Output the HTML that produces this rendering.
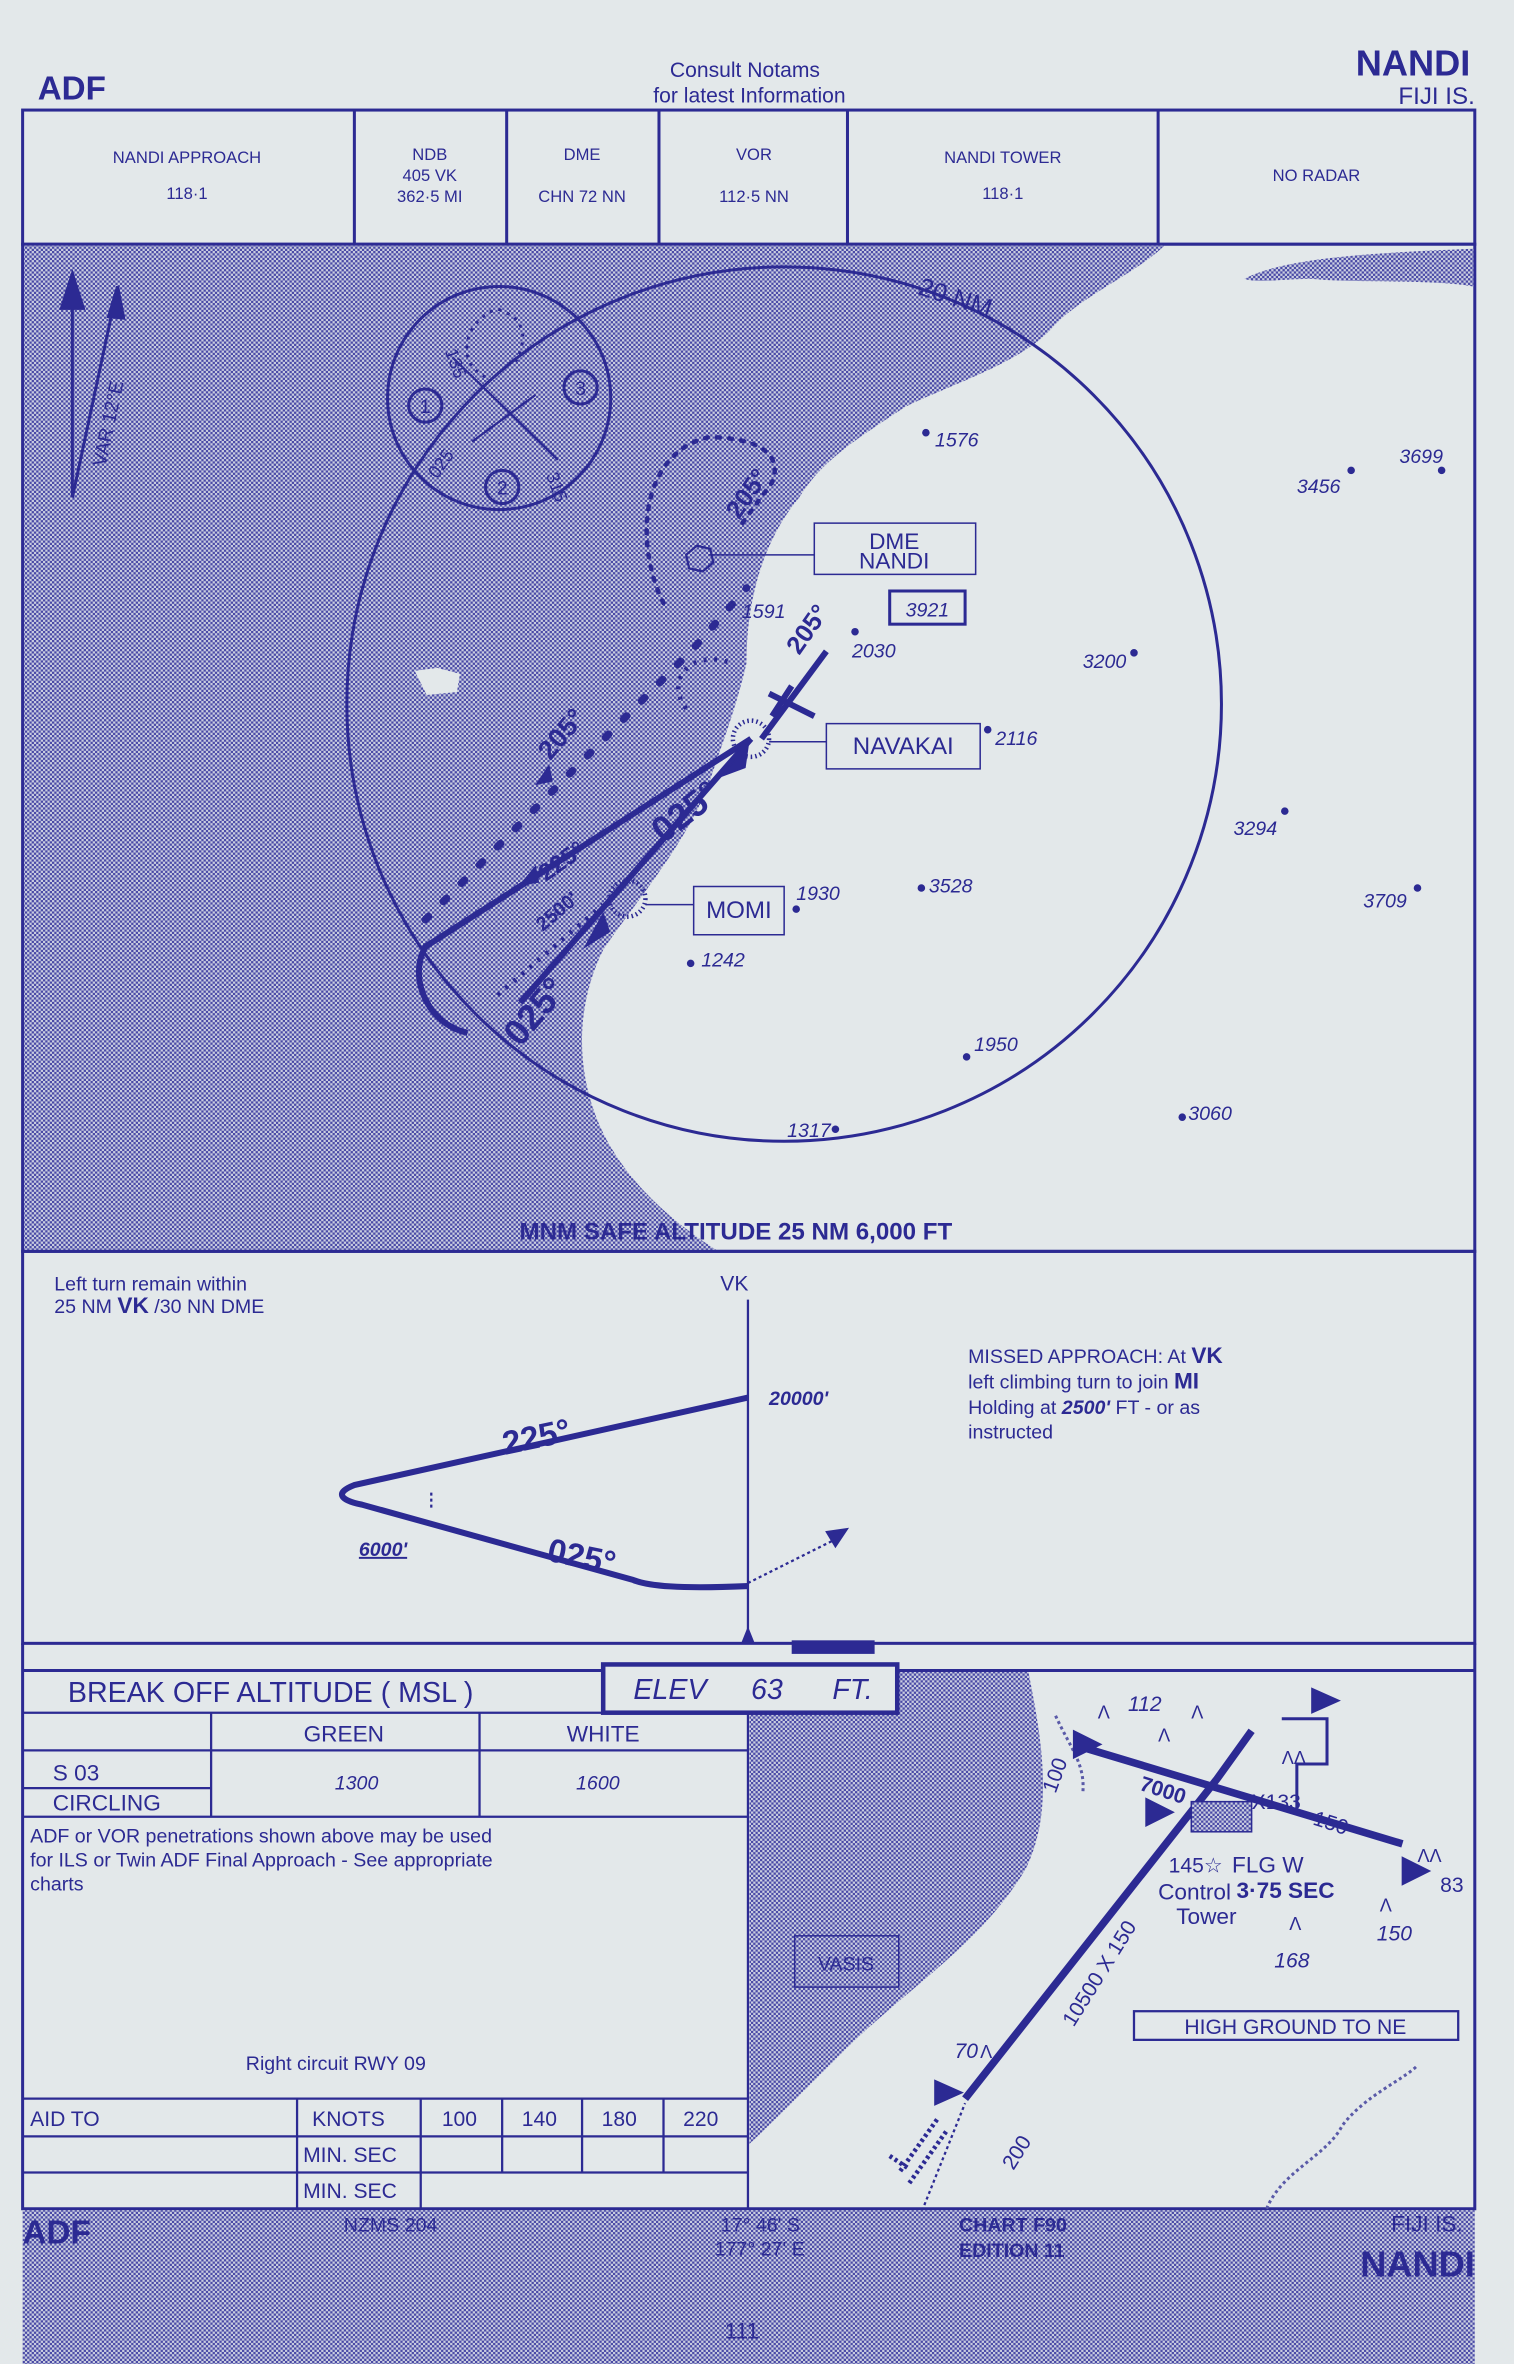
<!DOCTYPE html>
<html><head><meta charset="utf-8"><style>
html,body{margin:0;padding:0;background:#e3e8ea;}
svg{display:block;}
text{font-family:"Liberation Sans",sans-serif;fill:#2c2a93;}
</style></head><body>
<svg width="1514" height="2364" viewBox="0 0 1004 1568" preserveAspectRatio="none" xmlns="http://www.w3.org/2000/svg">
<defs>
<pattern id="h" width="3" height="3" patternUnits="userSpaceOnUse">
<rect width="3" height="3" fill="#c9cde0"/><rect width="1.5" height="1.5" fill="#4a4aa6"/><rect x="1.5" y="1.5" width="1.5" height="1.5" fill="#4a4aa6"/>
</pattern>
</defs>
<rect width="1004" height="1568" fill="#e3e8ea"/>
<g stroke="#2c2a93" fill="none">
<!-- header -->
<text x="25" y="66" font-size="22" font-weight="bold" stroke="none">ADF</text>
<text x="494" y="51" font-size="14" text-anchor="middle" stroke="none">Consult  Notams</text>
<text x="497" y="68" font-size="14" text-anchor="middle" stroke="none">for latest Information</text>
<text x="975" y="50" font-size="24" font-weight="bold" text-anchor="end" stroke="none">NANDI</text>
<text x="978" y="69" font-size="16" text-anchor="end" stroke="none">FIJI IS.</text>
<!-- freq box -->
<rect x="15" y="73" width="963" height="89" stroke-width="2"/>
<path d="M235 73V162M336 73V162M437 73V162M562 73V162M768 73V162" stroke-width="2"/>
<g font-size="11" stroke="none" text-anchor="middle">
<text x="124" y="108">NANDI APPROACH</text><text x="124" y="132">118·1</text>
<text x="285" y="106">NDB</text><text x="285" y="120">405    VK</text><text x="285" y="134">362·5   MI</text>
<text x="386" y="106">DME</text><text x="386" y="134">CHN   72   NN</text>
<text x="500" y="106">VOR</text><text x="500" y="134">112·5  NN</text>
<text x="665" y="108">NANDI TOWER</text><text x="665" y="132">118·1</text>
<text x="873" y="120">NO RADAR</text>
</g>
<!-- plan view -->
<rect x="15" y="162" width="963" height="668" fill="#e3e8ea" stroke-width="2"/>
<path d="M16 163H772C755 180 720 195 700 215C680 240 630 255 600 270C570 290 545 305 530 330C505 360 495 400 495 440C488 470 480 490 470 520C455 560 420 600 400 630C385 660 380 700 395 740C410 780 445 810 475 829H16Z" fill="url(#h)" stroke="none"/>
<path d="M825 185C850 172 900 168 977 165V190C950 185 900 188 870 185C850 185 835 188 825 185Z" fill="url(#h)" stroke="none"/>
<path d="M275 445l15-2 15 4-2 12-20 2z" fill="#e3e8ea" stroke="none"/>
<circle cx="520" cy="467" r="290" stroke-width="2"/>
<text x="608" y="195" font-size="17" stroke="none" transform="rotate(18 608 195)">20 NM</text>
<circle cx="331" cy="264" r="74" stroke-width="2"/>
<circle cx="282" cy="269" r="11" stroke-width="2"/><text x="282" y="274" font-size="13" text-anchor="middle" stroke="none">1</text>
<circle cx="333" cy="323" r="11" stroke-width="2"/><text x="333" y="328" font-size="13" text-anchor="middle" stroke="none">2</text>
<circle cx="385" cy="257" r="11" stroke-width="2"/><text x="385" y="262" font-size="13" text-anchor="middle" stroke="none">3</text>
<path d="M300 237L370 305M313 293L355 262" stroke-width="1.5"/>
<path d="M322 250C300 240 310 210 330 205C345 210 352 220 342 240" stroke-dasharray="2 4" stroke-width="2"/>
<text x="295" y="233" font-size="12" stroke="none" transform="rotate(70 295 233)">135</text>
<text x="290" y="318" font-size="12" stroke="none" transform="rotate(-55 290 318)">025</text>
<text x="362" y="315" font-size="12" stroke="none" transform="rotate(70 362 315)">315</text>
<!-- VAR arrows -->
<path d="M48 330V190" stroke-width="2"/>
<path d="M40 205L48 180L56 205Z" fill="#2c2a93"/>
<path d="M48 330L78 190M72 210l6-20 4 21z" stroke-width="2" fill="#2c2a93"/>
<text x="70" y="310" font-size="13" stroke="none" transform="rotate(-78 70 310)">VAR 12°E</text>
<!-- tracks -->
<path d="M498 490L282 628C270 650 285 680 310 685" stroke-width="4"/>
<path d="M498 490L345 665" stroke-width="4"/>
<path d="M505 490L548 432" stroke-width="4"/>
<path d="M510 460L540 475M525 455L512 475" stroke-width="4"/>
<path d="M282 610L460 430L495 390" stroke-dasharray="3 14" stroke-width="5" stroke-linecap="round"/>
<path d="M440 400C420 360 425 300 470 290C500 290 520 300 512 320L490 350" stroke-dasharray="2 6" stroke-width="3" stroke-linecap="round"/>
<path d="M455 470C440 450 460 430 485 440" stroke-dasharray="2 5" stroke-width="3"/>
<path d="M330 660L400 600" stroke-dasharray="2 5" stroke-width="3"/>
<path d="M388 628l12-22 4 12z M478 515l18-20-2 14z M356 520l8-12 2 10z M345 587l10-12 2 10z" fill="#2c2a93"/>
<circle cx="498" cy="490" r="12" stroke-dasharray="1 2" stroke-width="3"/>
<circle cx="416" cy="596" r="12" stroke-dasharray="1 2" stroke-width="3"/>
<g font-weight="bold" stroke="none">
<text x="440" y="560" font-size="24" transform="rotate(-38 440 560)">025°</text>
<text x="345" y="695" font-size="24" transform="rotate(-50 345 695)">025°</text>
<text x="365" y="505" font-size="18" transform="rotate(-50 365 505)">205°</text>
<text x="362" y="585" font-size="16" transform="rotate(-35 362 585)">225°</text>
<text x="360" y="618" font-size="13" transform="rotate(-40 360 618)">2500'</text>
<text x="530" y="435" font-size="17" transform="rotate(-55 530 435)">205°</text>
<text x="490" y="345" font-size="17" transform="rotate(-55 490 345)">205°</text>
</g>
<path d="M455 368l7-6 9 2 2 9-7 6-9-2z" stroke-width="1.5"/>
<path d="M470 368H540V347H647V381H540V368"/>
<text x="593" y="364" font-size="15" text-anchor="middle" stroke="none">DME</text>
<text x="593" y="377" font-size="15" text-anchor="middle" stroke="none">NANDI</text>
<rect x="590" y="392" width="50" height="22" stroke-width="2"/><text x="615" y="409" font-size="13" font-style="italic" text-anchor="middle" stroke="none">3921</text>
<path d="M510 492H548V480H650V510H548V492"/>
<text x="599" y="500" font-size="16" text-anchor="middle" stroke="none">NAVAKAI</text>
<path d="M428 600H460V588H520V620H460V600"/>
<text x="490" y="609" font-size="16" text-anchor="middle" stroke="none">MOMI</text>
<g font-size="13" font-style="italic" stroke="none">
<text x="620" y="296">1576</text><text x="860" y="327">3456</text><text x="928" y="307">3699</text>
<text x="492" y="410">1591</text><text x="565" y="436">2030</text><text x="718" y="443">3200</text>
<text x="660" y="494">2116</text><text x="818" y="554">3294</text><text x="904" y="602">3709</text>
<text x="528" y="597">1930</text><text x="616" y="592">3528</text><text x="465" y="641">1242</text>
<text x="646" y="697">1950</text><text x="788" y="743">3060</text><text x="522" y="754">1317</text>
</g>
<g fill="#2c2a93" stroke="none">
<circle cx="614" cy="287" r="2.5"/><circle cx="896" cy="312" r="2.5"/><circle cx="956" cy="312" r="2.5"/><circle cx="752" cy="433" r="2.5"/><circle cx="655" cy="484" r="2.5"/><circle cx="852" cy="538" r="2.5"/><circle cx="940" cy="589" r="2.5"/><circle cx="528" cy="603" r="2.5"/><circle cx="611" cy="589" r="2.5"/><circle cx="458" cy="639" r="2.5"/><circle cx="641" cy="701" r="2.5"/><circle cx="784" cy="741" r="2.5"/><circle cx="554" cy="749" r="2.5"/><circle cx="567" cy="419" r="2.5"/>
</g>
<text x="488" y="822" font-size="16" font-weight="bold" text-anchor="middle" stroke="none">MNM SAFE ALTITUDE 25 NM   6,000 FT</text>
<!-- profile -->
<rect x="15" y="830" width="963" height="260" stroke-width="2"/>
<text x="36" y="856" font-size="13" stroke="none">Left turn remain within</text>
<text x="36" y="871" font-size="13" stroke="none">25 NM  <tspan font-weight="bold" font-size="15">VK</tspan> /30 NN DME</text>
<text x="487" y="856" font-size="14" stroke="none" text-anchor="middle">VK</text>
<path d="M496 862V1082" stroke-width="1.5"/>
<path d="M496 927L235 985C222 990 225 995 240 998L420 1048C430 1052 450 1054 496 1052" stroke-width="4"/>
<path d="M286 1000v-12M496 1050L560 1018" stroke-width="1.5" stroke-dasharray="2 2"/>
<path d="M548 1016l14-2-8 12z" fill="#2c2a93"/>
<text x="510" y="932" font-size="13" font-weight="bold" font-style="italic" stroke="none">20000'</text>
<text x="238" y="1032" font-size="13" font-weight="bold" font-style="italic" stroke="none" text-decoration="underline">6000'</text>
<text x="335" y="965" font-size="22" font-weight="bold" stroke="none" transform="rotate(-12 335 965)">225°</text>
<text x="362" y="1035" font-size="22" font-weight="bold" stroke="none" transform="rotate(12 362 1035)">025°</text>
<g font-size="13" stroke="none">
<text x="642" y="904">MISSED APPROACH: At <tspan font-weight="bold" font-size="15">VK</tspan></text>
<text x="642" y="921">left climbing turn to join <tspan font-weight="bold" font-size="15">MI</tspan></text>
<text x="642" y="938">Holding at <tspan font-weight="bold" font-style="italic">2500'</tspan> FT - or as</text>
<text x="642" y="954">instructed</text>
</g>
<path d="M492 1090l4-10 4 10z" fill="#2c2a93"/>
<rect x="525" y="1088" width="55" height="9" fill="#2c2a93" stroke="none"/>
<!-- bottom -->
<path d="M15 1090V1465H978V1090M15 1108H978" stroke-width="2"/>
<text x="45" y="1129" font-size="19" stroke="none">BREAK OFF ALTITUDE ( MSL )</text>
<path d="M15 1136H496M496 1108V1465M15 1161H496M140 1136V1205M318 1136V1205M15 1186H140M15 1205H496" stroke-width="1.5"/>
<text x="228" y="1155" font-size="15" text-anchor="middle" stroke="none">GREEN</text>
<text x="400" y="1155" font-size="15" text-anchor="middle" stroke="none">WHITE</text>
<text x="35" y="1181" font-size="15" stroke="none">S 03</text>
<text x="35" y="1201" font-size="15" stroke="none">CIRCLING</text>
<text x="222" y="1187" font-size="13" font-style="italic" stroke="none">1300</text>
<text x="382" y="1187" font-size="13" font-style="italic" stroke="none">1600</text>
<g font-size="13" stroke="none">
<text x="20" y="1222">ADF or VOR penetrations shown above may be used</text>
<text x="20" y="1238">for ILS or Twin ADF Final Approach - See appropriate</text>
<text x="20" y="1254">charts</text>
<text x="163" y="1373">Right circuit RWY 09</text>
</g>
<path d="M15 1392H496M15 1417H496M15 1441H496M197 1392V1465M279 1392V1465M333 1392V1441M386 1392V1441M440 1392V1441" stroke-width="1.5"/>
<g font-size="14" stroke="none">
<text x="20" y="1410">AID TO</text><text x="207" y="1410">KNOTS</text>
<text x="293" y="1410">100</text><text x="346" y="1410">140</text><text x="399" y="1410">180</text><text x="453" y="1410">220</text>
<text x="201" y="1434">MIN. SEC</text><text x="201" y="1458">MIN. SEC</text>
</g>
<!-- aerodrome -->
<path d="M497 1109H682C690 1150 700 1200 680 1240C650 1290 600 1320 560 1360C530 1390 510 1410 497 1422Z" fill="url(#h)" stroke="none"/>
<path d="M840 1465C850 1440 880 1430 890 1410C905 1390 930 1380 940 1370" stroke="#5a5aa8" stroke-width="2" stroke-dasharray="2 2"/>
<path d="M700 1138C710 1160 720 1170 718 1190" stroke="#5a5aa8" stroke-width="2" stroke-dasharray="2 2"/>
<rect x="527" y="1284" width="69" height="34"/><text x="561" y="1307" font-size="13" text-anchor="middle" stroke="none">VASIS</text>
<path d="M640 1392L807 1180L830 1148M718 1159L930 1223" stroke-width="5"/>
<path d="M610 1470L640 1395" stroke-width="1.5" stroke-dasharray="2 2"/>
<path d="M597 1440l25-35M603 1448l25-35M590 1430l12 8" stroke-width="3" stroke-dasharray="2 2"/>
<path d="M620 1380v16l18-8zM712 1148v18l18-9zM760 1193v18l18-9zM870 1120v16l18-8zM930 1232v18l18-9z" fill="#2c2a93"/>
<rect x="790" y="1195" width="40" height="20" fill="url(#h)" stroke-width="1"/>
<path d="M850 1140H880V1170H860V1200" stroke-width="2"/>
<g font-size="14" stroke="none">
<text x="755" y="1187" font-weight="bold" transform="rotate(18 755 1187)">7000</text>
<text x="830" y="1200">X133</text>
<text x="870" y="1210" transform="rotate(18 870 1210)">150</text>
<text x="748" y="1135" font-style="italic">112</text>
<text x="775" y="1242">145☆</text><text x="817" y="1242" font-size="15">FLG W</text>
<text x="768" y="1260" font-size="15">Control</text><text x="780" y="1276" font-size="15">Tower</text>
<text x="820" y="1259" font-size="15" font-weight="bold">3·75 SEC</text>
<text x="955" y="1255">83</text><text x="913" y="1287" font-style="italic">150</text>
<text x="845" y="1305" font-style="italic">168</text>
<text x="633" y="1365" font-style="italic">70</text>
<text x="712" y="1345" transform="rotate(-58 712 1345)">10500 X 150</text>
<text x="672" y="1440" transform="rotate(-58 672 1440)">200</text>
<text x="700" y="1190" transform="rotate(-70 700 1190)">100</text>
</g>
<g font-size="12" stroke="none"><text x="728" y="1140">Λ</text><text x="768" y="1155">Λ</text><text x="790" y="1140">Λ</text><text x="850" y="1170">ΛΛ</text><text x="855" y="1280">Λ</text><text x="940" y="1235">ΛΛ</text><text x="915" y="1268">Λ</text><text x="650" y="1365">Λ</text></g>
<rect x="752" y="1334" width="215" height="19" stroke-width="1.5"/>
<text x="859" y="1349" font-size="14" text-anchor="middle" stroke="none">HIGH  GROUND  TO NE</text>
<!-- ELEV box on top -->
<rect x="400" y="1104" width="195" height="32" fill="#e3e8ea" stroke-width="3"/>
<text x="420" y="1127" font-size="19" font-style="italic" stroke="none">ELEV</text>
<text x="498" y="1127" font-size="19" font-style="italic" stroke="none">63</text>
<text x="552" y="1127" font-size="19" font-style="italic" stroke="none">FT.</text>
<!-- footer -->
<rect x="15" y="1466" width="963" height="102" fill="url(#h)" stroke="none"/>
</g>
<g stroke="none">
<text x="15" y="1488" font-size="22" font-weight="bold">ADF</text>
<text x="228" y="1480" font-size="13">NZMS   204</text>
<text x="478" y="1480" font-size="13">17° 46' S</text>
<text x="474" y="1496" font-size="13">177° 27' E</text>
<text x="636" y="1480" font-size="13" font-weight="bold">CHART F90</text>
<text x="636" y="1497" font-size="13" font-weight="bold">EDITION 11</text>
<text x="970" y="1480" font-size="15" text-anchor="end">FIJI IS.</text>
<text x="978" y="1510" font-size="24" font-weight="bold" text-anchor="end">NANDI</text>
<text x="492" y="1551" font-size="15" text-anchor="middle">111</text>
</g>
</svg>
</body></html>
